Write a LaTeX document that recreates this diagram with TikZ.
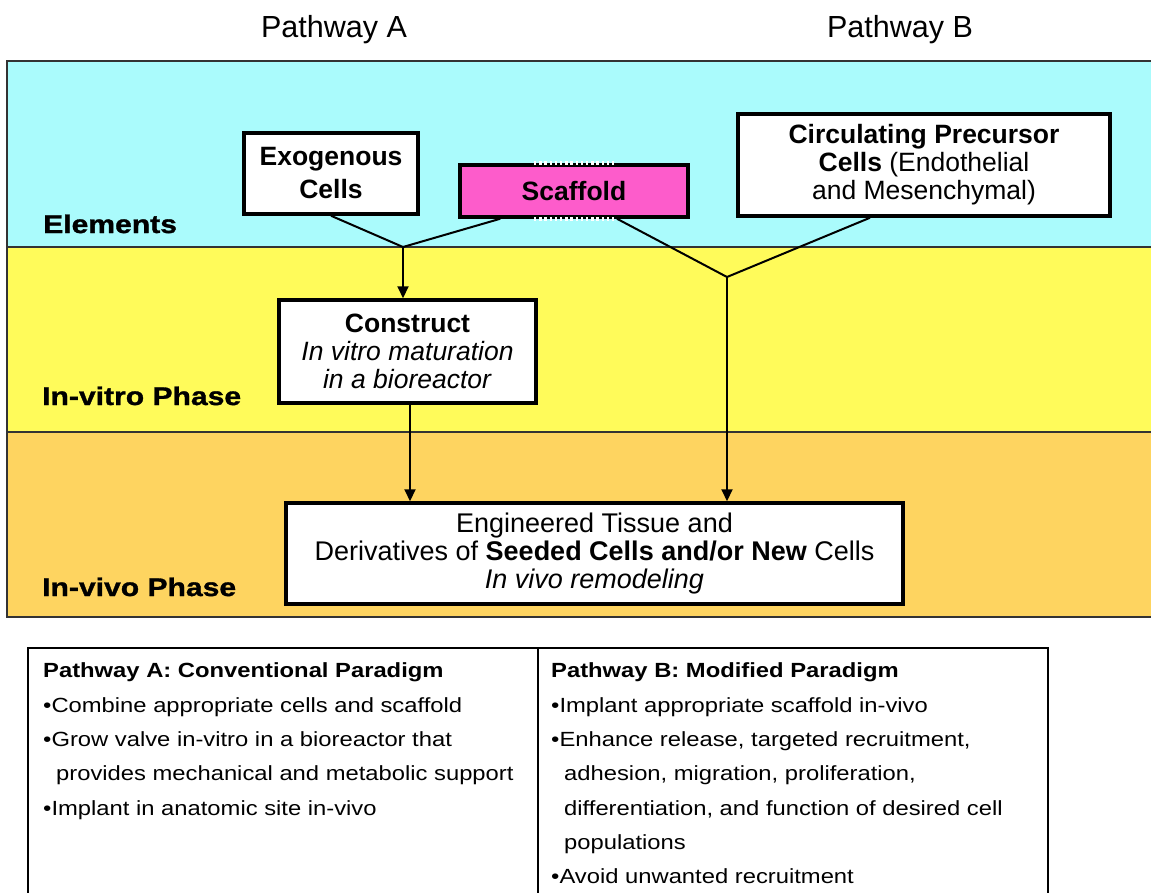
\documentclass[tikz,border=0pt]{standalone}
\usepackage{fontspec}
\setmainfont{Liberation Sans}
\newfontfamily\lblfont{Liberation Sans}[FakeStretch=1.18,FakeBold=1.2]
\newfontfamily\tblfont{Liberation Sans}[FakeStretch=1.16]
\usetikzlibrary{arrows.meta}
\definecolor{bandcyan}{HTML}{AAFBFC}
\definecolor{bandyellow}{HTML}{FFFB5A}
\definecolor{bandorange}{HTML}{FED460}
\definecolor{scafpink}{HTML}{FD5CCB}
\begin{document}
\begin{tikzpicture}[x=1pt,y=-1pt,
  box/.style={draw=black, line width=3.5pt, fill=white, inner sep=0pt, align=center,
              font=\fontsize{26.5}{28}\selectfont},
  conn/.style={line width=2pt},
  arr/.style={conn, -{Triangle[length=12pt,width=11pt]}},
  band/.style={draw=black!80, line width=2pt},
  lbl/.style={anchor=base west, inner sep=0pt, font=\lblfont\bfseries\fontsize{25.5}{28}\selectfont},
  plbl/.style={anchor=base, inner sep=0pt, font=\fontsize{30.5}{32}\selectfont},
  tl/.style={anchor=base west, inner sep=0pt, font=\tblfont\fontsize{20.5}{22}\selectfont}]
\clip (0,0) rectangle (1151,892);
\fill[white] (0,0) rectangle (1151,892);

% bands
\draw[band, fill=bandcyan] (7,61) rectangle (1160,247);
\draw[band, fill=bandyellow] (7,247) rectangle (1160,432);
\draw[band, fill=bandorange] (7,432) rectangle (1160,617);

% pathway titles
\node[plbl] (pa) at (334,37) {Pathway A};
\node[plbl] (pb) at (900,37) {Pathway B};

% phase labels
\node[lbl] (lel) at (43,233) {Elements};
\node[lbl] (lvt) at (42,405) {In-vitro Phase};
\node[lbl] (lvv) at (42,596) {In-vivo Phase};

% boxes
\node[box, minimum width=174pt, minimum height=81pt, font=\fontsize{26.5}{33}\selectfont]
  (ex) at (331,173.5) {\textbf{Exogenous}\\\textbf{Cells}};
\node[box, fill=scafpink, minimum width=228pt, minimum height=52pt]
  (sc) at (574,191) {\textbf{Scaffold}};
\draw[white, line width=3.6pt, dash pattern=on 2.4pt off 2.8pt]
  ([xshift=-40pt]sc.north) -- ([xshift=40pt]sc.north);
\draw[white, line width=3.6pt, dash pattern=on 2.4pt off 2.8pt]
  ([xshift=-40pt]sc.south) -- ([xshift=40pt]sc.south);
\node[box, minimum width=372pt, minimum height=102pt]
  (circ) at (924,165) {\textbf{Circulating Precursor}\\\textbf{Cells} (Endothelial\\and Mesenchymal)};
\node[box, minimum width=257pt, minimum height=103pt]
  (con) at (407.5,351.5) {\textbf{Construct}\\\textit{In vitro maturation}\\\textit{in a bioreactor}};
\node[box, minimum width=617pt, minimum height=101pt, font=\fontsize{27}{28}\selectfont]
  (eng) at (594.5,553.5) {Engineered Tissue and\\Derivatives of \textbf{Seeded Cells and/or New} Cells\\\textit{In vivo remodeling}};

% connectors
\coordinate (jA) at (403,247);
\coordinate (jB) at (727,277);
\draw[conn] (ex.south) -- (jA);
\draw[conn] ([xshift=42pt]sc.south west) -- (jA);
\draw[conn] ([xshift=43pt]sc.south) -- (jB);
\draw[conn] ([xshift=-54pt]circ.south) -- (jB);
\draw[arr] (jA) -- (jA |- con.north);
\draw[arr] (jB) -- (jB |- eng.north);
\draw[arr] ([xshift=2.5pt]con.south) -- ([xshift=2.5pt]con.south |- eng.north);

% table frame
\draw[line width=2.5pt] (28,900) -- (28,648) -- (1048,648) -- (1048,900);
\draw[line width=2pt] (538,648) -- (538,900);

% table text
\node[tl] (a1) at (43,677) {\bfseries Pathway A: Conventional Paradigm};
\node[tl] (a2) at (43,712) {•Combine appropriate cells and scaffold};
\node[tl] (a3) at (43,746.5) {•Grow valve in-vitro in a bioreactor that};
\node[tl] (a4) at (56,780.5) {provides mechanical and metabolic support};
\node[tl] (a5) at (43,815) {•Implant in anatomic site in-vivo};

\node[tl] (b1) at (551,677) {\bfseries Pathway B: Modified Paradigm};
\node[tl] (b2) at (551,712) {•Implant appropriate scaffold in-vivo};
\node[tl] (b3) at (551,746.5) {•Enhance release, targeted recruitment,};
\node[tl] (b4) at (564,780.5) {adhesion, migration, proliferation,};
\node[tl] (b5) at (564,815) {differentiation, and function of desired cell};
\node[tl] (b6) at (564,849) {populations};
\node[tl] (b7) at (551,883.5) {•Avoid unwanted recruitment};
\end{tikzpicture}
\end{document}
